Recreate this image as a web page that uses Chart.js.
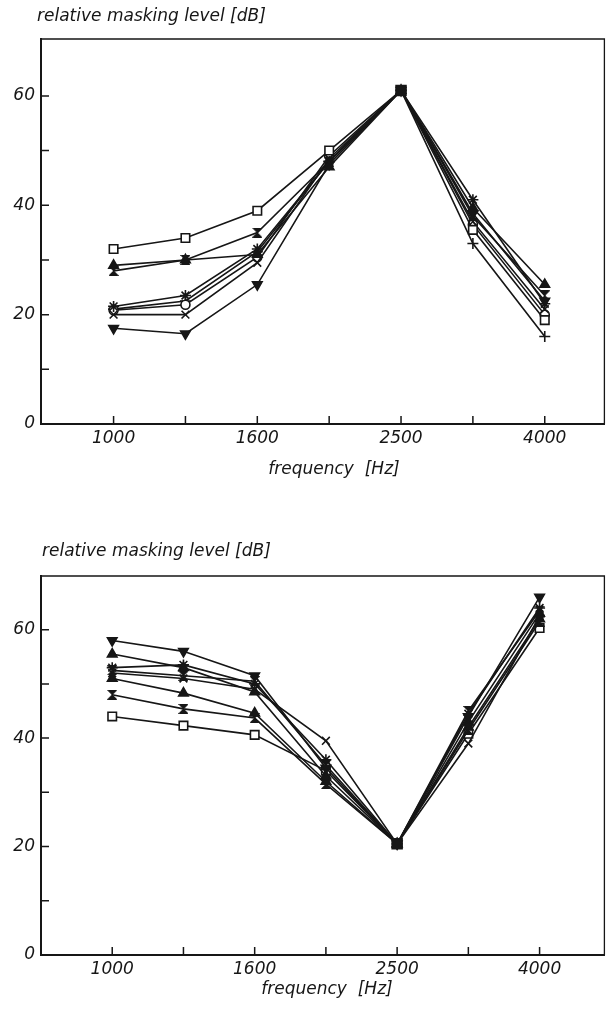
<!DOCTYPE html>
<html>
<head>
<meta charset="utf-8">
<script src="https://cdn.jsdelivr.net/npm/chart.js@4.4.1/dist/chart.umd.min.js"></script>
<style>
  html, body { margin: 0; padding: 0; background: #fff; }
  .panel { position: absolute; left: 0; width: 613px; }
  #topWrap { top: 0; height: 505px; }
  #bottomWrap { top: 505px; height: 506px; }
</style>
</head>
<body>
<div class="panel" id="topWrap"><canvas id="topChart" width="613" height="505"></canvas></div>
<div class="panel" id="bottomWrap"><canvas id="bottomChart" width="613" height="506"></canvas></div>
<script>
// x categories (Hz) and which of them get a label
const frequencies = ['1000', '1250', '1600', '2000', '2500', '3150', '4000'];
const freqTickLabels = ['1000', '', '1600', '', '2500', '', '4000'];
const yTickValues = [0, 10, 20, 30, 40, 50, 60];
const yTickLabels = ['0', '', '20', '', '40', '', '60'];

// upper panel: masker at 2500 Hz, peak level
const upRef = [null, null, null, null, 61, null, null];
const upSquare = [32, 34, 39, 50, 61, 35.5, 19];
const upTriangle = [29, 30, 31, 47, 61, 39.5, 25.5];
const upHourglass = [28, 30, 35, 48, 61, 38, 23.5];
const upInvTriangle = [17.5, 16.5, 25.5, 47.5, 61, 38.5, 22.5];
const upStar = [21.5, 23.5, 32, 48, 61, 41, 22];
const upCross = [20, 20, 29.5, 48.5, 61, 37, 21];
const upCircle = [20.8, 21.8, 30.5, 49, 61, 36.5, 20];
const upPlus = [21, 22.5, 31.5, 48, 61, 33, 16];

// lower panel: notch at 2500 Hz
const downRef = [null, null, null, null, 20.5, null, null];
const downInvTriangle = [58, 56, 51.5, 34.5, 20.5, 44, 66];
const downTriangle = [55.5, 53, 48.5, 33, 20.5, 43, 63];
const downStar = [53, 53.5, 50, 36, 20.5, 44.5, 64];
const downHourglass = [52.5, 51.5, 50.5, 35, 20.5, 45, 63.5];
const downCross = [52, 51, 49, 39.5, 20.5, 39, 62.5];
const downTriangle2 = [51, 48.3, 44.6, 32, 20.5, 42, 62];
const downHourglass2 = [48, 45.4, 43.7, 31.5, 20.5, 41.5, 61.5];
const downSquare = [44, 42.3, 40.6, 34, 20.5, 40.8, 60.3];

const INK = '#161616';
const FONT = '"DejaVu Sans", sans-serif';

// hourglass marker (two filled triangles tip to tip)
function makeHourglass(size) {
  const c = document.createElement('canvas');
  c.width = size; c.height = size;
  const g = c.getContext('2d');
  g.fillStyle = INK;
  g.beginPath();
  g.moveTo(0.5, 0.5); g.lineTo(size - 0.5, 0.5);
  g.lineTo(0.5, size - 0.5); g.lineTo(size - 0.5, size - 0.5);
  g.closePath();
  g.fill();
  g.strokeStyle = INK; g.lineWidth = 1; g.stroke();
  return c;
}
const hourglassImg = makeHourglass(10);

const markers = {
  ref: { pointStyle: 'rect', pointRadius: 7, pointBackgroundColor: INK },
  square: { pointStyle: 'rect', pointRadius: 6, pointBackgroundColor: '#fff' },
  triangle: { pointStyle: 'triangle', pointRadius: 5.5, pointBackgroundColor: INK },
  invTriangle: { pointStyle: 'triangle', pointRadius: 5.5, pointRotation: 180, pointBackgroundColor: INK },
  hourglass: { pointStyle: hourglassImg, pointRadius: 5 },
  star: { pointStyle: 'star', pointRadius: 5.5, pointBackgroundColor: INK },
  cross: { pointStyle: 'crossRot', pointRadius: 5.5, pointBackgroundColor: INK },
  plus: { pointStyle: 'cross', pointRadius: 5.5, pointBackgroundColor: INK },
  circle: { pointStyle: 'circle', pointRadius: 4.5, pointBackgroundColor: '#fff' }
};

function series(label, values, kind) {
  return Object.assign({
    label: label,
    data: values.map((v, i) => ({ x: i, y: v })),
    borderColor: INK,
    borderWidth: 1.6,
    pointBorderColor: INK,
    pointBorderWidth: 1.6,
    showLine: kind !== 'ref',
    fill: false,
    tension: 0
  }, markers[kind]);
}

// frame, inward tick marks and the two axis titles
function framePlugin(yTitle, xTitle) {
  return {
    id: 'frame',
    afterDraw(chart) {
      const { ctx, chartArea: a, scales } = chart;
      ctx.save();
      ctx.strokeStyle = INK;
      ctx.lineWidth = 1.3;
      ctx.beginPath();
      ctx.moveTo(a.left, a.top); ctx.lineTo(a.right, a.top); ctx.lineTo(a.right, a.bottom);
      ctx.stroke();

      ctx.lineWidth = 1.5;
      ctx.beginPath();
      frequencies.forEach((f, i) => {
        const px = scales.x.getPixelForValue(i);
        ctx.moveTo(px, a.bottom); ctx.lineTo(px, a.bottom - 8);
      });
      yTickValues.forEach(v => {
        if (v === 0) return;
        const py = scales.y.getPixelForValue(v);
        ctx.moveTo(a.left, py); ctx.lineTo(a.left + 8, py);
      });
      ctx.stroke();

      ctx.fillStyle = INK;
      ctx.font = 'italic 17px ' + FONT;
      ctx.textBaseline = 'middle';
      ctx.textAlign = 'left';
      ctx.fillText(yTitle.text, yTitle.x, yTitle.y);
      ctx.textAlign = 'center';
      ctx.fillText(xTitle.text, xTitle.x, xTitle.y);
      ctx.restore();
    }
  };
}

function buildOptions(xMin, xMax, yMax, padTop, padRight, xHeight) {
  return {
    responsive: false,
    animation: false,
    events: [],
    layout: { padding: { top: padTop, right: padRight, left: 0, bottom: 0 } },
    plugins: { legend: { display: false }, tooltip: { enabled: false } },
    scales: {
      x: {
        type: 'linear',
        min: xMin,
        max: xMax,
        afterBuildTicks: s => { s.ticks = frequencies.map((f, i) => ({ value: i })); },
        afterFit: s => { s.height = xHeight; },
        grid: { display: false, drawTicks: false },
        border: { display: true, color: INK, width: 2 },
        ticks: {
          autoSkip: false,
          maxRotation: 0,
          padding: 4,
          color: INK,
          font: { family: FONT, size: 17, style: 'italic' },
          callback: v => freqTickLabels[v] || ''
        }
      },
      y: {
        min: 0,
        max: yMax,
        afterBuildTicks: s => { s.ticks = yTickValues.map(v => ({ value: v })); },
        afterFit: s => { s.width = 41; },
        grid: { display: false, drawTicks: false },
        border: { display: true, color: INK, width: 2 },
        ticks: {
          padding: 6,
          color: INK,
          font: { family: FONT, size: 17, style: 'italic' },
          callback: v => yTickLabels[yTickValues.indexOf(v)] || ''
        }
      }
    }
  };
}

new Chart(document.getElementById('topChart'), {
  type: 'line',
  data: {
    datasets: [
      series('reference', upRef, 'ref'),
      series('square', upSquare, 'square'),
      series('triangle', upTriangle, 'triangle'),
      series('hourglass', upHourglass, 'hourglass'),
      series('inverted triangle', upInvTriangle, 'invTriangle'),
      series('star', upStar, 'star'),
      series('cross', upCross, 'cross'),
      series('circle', upCircle, 'circle'),
      series('plus', upPlus, 'plus')
    ]
  },
  options: buildOptions(-1.01, 6.83, 70.4, 39, 5, 81),
  plugins: [framePlugin(
    { text: 'relative masking level [dB]', x: 37, y: 17 },
    { text: 'frequency  [Hz]', x: 334, y: 470 }
  )]
});

new Chart(document.getElementById('bottomChart'), {
  type: 'line',
  data: {
    datasets: [
      series('reference', downRef, 'ref'),
      series('inverted triangle', downInvTriangle, 'invTriangle'),
      series('triangle', downTriangle, 'triangle'),
      series('star', downStar, 'star'),
      series('hourglass', downHourglass, 'hourglass'),
      series('cross', downCross, 'cross'),
      series('triangle 2', downTriangle2, 'triangle'),
      series('hourglass 2', downHourglass2, 'hourglass'),
      series('square', downSquare, 'square')
    ]
  },
  options: buildOptions(-1.0, 6.91, 69.9, 71, 2, 56),
  plugins: [framePlugin(
    { text: 'relative masking level [dB]', x: 42, y: 47 },
    { text: 'frequency  [Hz]', x: 327, y: 485 }
  )]
});
</script>
</body>
</html>
